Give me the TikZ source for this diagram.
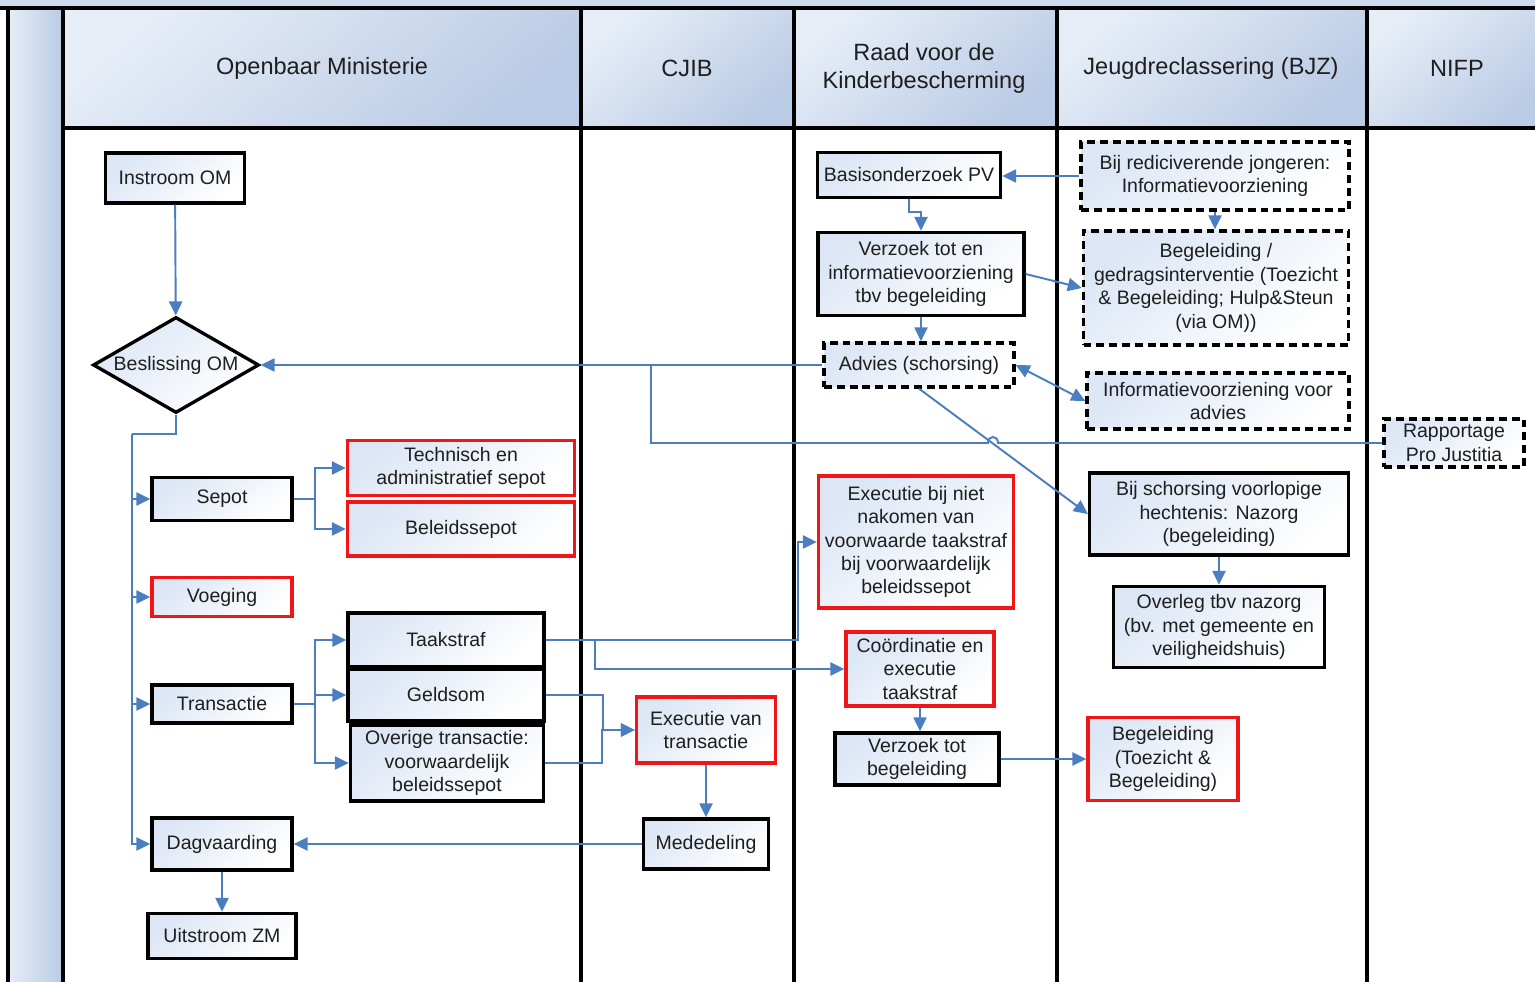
\documentclass[tikz,border=0pt]{standalone}
\usepackage{fontspec}
\setmainfont{Liberation Sans}
\usetikzlibrary{positioning,arrows.meta,shapes.geometric}
\definecolor{lnblue}{RGB}{74,126,193}
\definecolor{hdlight}{RGB}{230,237,247}
\definecolor{hddark}{RGB}{186,203,229}
\definecolor{bxblue}{RGB}{220,230,245}
\definecolor{bxred}{RGB}{238,22,22}
\definecolor{txt}{RGB}{30,30,30}

\begin{document}
\begin{tikzpicture}[x=.02cm,y=-.02cm,font=\fontsize{11.1}{13.3}\selectfont,text=txt,
  wh/.style 2 args={minimum width=#1*.02cm,minimum height=#2*.02cm},
  boxshade/.style={top color=bxblue,bottom color=white,shading angle=40},
  box/.style={draw=black,line width=1.9pt,boxshade,inner sep=1pt,align=center},
  redbox/.style={box,draw=bxred},
  dbox/.style={box,dash pattern=on 4.5pt off 2.8pt},
  conn/.style={draw=lnblue,line width=1.1pt},
  tip/.tip={Triangle[length=8pt,width=7.5pt]},
  flow/.style={conn,-tip},
  lane/.style={line width=2.2pt},
  hdtxt/.style={font=\fontsize{13.4}{15.9}\selectfont,align=center}]
\useasboundingbox (0,0) rectangle (1535,982);
% swimlane frame
\fill[hdlight!45!hddark] (0,0) rectangle (1535,8);
\foreach \a/\b in {63/581,581/794,794/1057,1057/1367,1367/1545}
  \shade[top color=hdlight,bottom color=hddark,shading angle=40] (\a,8) rectangle (\b,128);
\shade[left color=hdlight,right color=hddark] (8,8) rectangle (63,982);
\draw[lane] (0,8) -- (1535,8) (63,128) -- (1535,128);
\foreach \x in {8,63,581,794,1057,1367} \draw[lane] (\x,8) -- (\x,982);
\node[hdtxt] (hom) at (322,68) {Openbaar Ministerie};
\node[hdtxt] (hcjib) at (687,68) {CJIB};
\node[hdtxt] (hraad) at (924,68) {Raad voor de\\Kinderbescherming};
\node[hdtxt] (hbjz) at (1211,68) {Jeugdreclassering (BJZ)};
\node[hdtxt] (hnifp) at (1457,68) {NIFP};
% Openbaar Ministerie
\node[box,wh={139}{50}] (instroom) at (175,178) {Instroom OM};
\node[diamond,draw=black,line width=1.9pt,boxshade,aspect=1.7,inner sep=0pt,wh={166}{96}] (beslis) at (176,365) {Beslissing OM};
\node[box,wh={140}{43}] (sepot) at (222,499) {Sepot};
\node[redbox,wh={227}{55}] (tas) at (461,468) {Technisch en\\administratief sepot};
\node[redbox,wh={227}{54}] (bsepot) at (461,529) {Beleidssepot};
\node[redbox,wh={140}{39}] (voeging) at (222,597) {Voeging};
\node[box,wh={140}{38}] (trans) at (222,704) {Transactie};
\node[box,wh={196}{54}] (taak) at (446,640) {Taakstraf};
\node[box,wh={196}{52}] (geld) at (446,695) {Geldsom};
\node[box,wh={193}{76}] (overig) at (447,763) {Overige transactie:\\voorwaardelijk\\beleidssepot};
\node[box,wh={140}{52}] (dagv) at (222,844) {Dagvaarding};
\node[box,wh={148}{45}] (uitstroom) at (222,936) {Uitstroom ZM};
% CJIB
\node[redbox,wh={139}{66}] (exectr) at (706,730) {Executie van\\transactie};
\node[box,wh={125}{50}] (meded) at (706,844) {Mededeling};
% Raad voor de Kinderbescherming
\node[box,wh={183}{45}] (basis) at (909,175) {Basisonderzoek PV};
\node[box,wh={206}{83}] (verzinfo) at (921,274) {Verzoek tot en\\informatievoorziening\\tbv begeleiding};
\node[dbox,wh={190}{44}] (advies) at (919,365) {Advies (schorsing)};
\node[redbox,wh={195}{132}] (execniet) at (916,542) {Executie bij niet\\nakomen van\\voorwaarde taakstraf\\bij voorwaardelijk\\beleidssepot};
\node[redbox,wh={148}{74}] (coord) at (920,669) {Coördinatie en\\executie\\taakstraf};
\node[box,wh={164}{52}] (verzbeg) at (917,759) {Verzoek tot\\begeleiding};
% Jeugdreclassering
\node[dbox,wh={268}{68}] (recid) at (1215,176) {Bij rediciverende jongeren:\\Informatievoorziening};
\node[dbox,wh={265}{114}] (gedrag) at (1216,288) {Begeleiding /\\gedragsinterventie (Toezicht\\\& Begeleiding; Hulp\&Steun\\(via OM))};
\node[dbox,wh={262}{56}] (infoadv) at (1218,401) {Informatievoorziening voor\\advies};
\node[box,wh={259}{82}] (nazorg) at (1219,514) {Bij schorsing voorlopige\\hechtenis: Nazorg\\(begeleiding)};
\node[box,wh={211}{81}] (overleg) at (1219,627) {Overleg tbv nazorg\\(bv. met gemeente en\\veiligheidshuis)};
\node[redbox,wh={150}{83}] (toezicht) at (1163,759) {Begeleiding\\(Toezicht \&\\Begeleiding)};
% NIFP
\node[dbox,wh={140}{48}] (rpj) at (1454,443) {Rapportage\\Pro Justitia};
% connectors
\coordinate (tk) at (132,434);
\coordinate (jn) at (651,365);
\draw[flow] (instroom) -- (beslis);
\draw[conn] (beslis.south) |- (tk);
\foreach \n in {sepot,voeging,trans,dagv} \draw[flow] (tk) |- (\n.west);
\foreach \n in {tas,bsepot} \draw[flow] (sepot.east) -- ++(21,0) |- (\n.west);
\foreach \n in {taak,geld,overig} \draw[flow] (trans.east) -- ++(21,0) |- (\n.west);
\draw[flow] (taak.east) -- ++(252,0) |- (execniet.west);
\draw[flow] (taak.east) -- ++(49,0) |- (coord.west);
\foreach \n in {geld,overig} \draw[flow] (\n.east) -- ++(57,0) |- (exectr.west);
\draw[flow] (exectr) -- (meded);
\draw[flow] (meded) -- (dagv);
\draw[flow] (dagv) -- (uitstroom);
\draw[flow] (advies) -- (beslis);
\draw[conn] (rpj.west) -- (998,443) .. controls (998,435) and (988,435) .. (988,443) -| (jn);
\draw[flow] (basis.south) -- ++(0,13) -| (verzinfo.north);
\draw[flow] (recid.west) -- (recid.west -| basis.east);
\draw[flow] (recid.south) -- (recid.south |- gedrag.north);
\draw[flow] (verzinfo.east) -- (gedrag.west);
\draw[flow] (verzinfo.south) -- (verzinfo.south |- advies.north);
\draw[conn,tip-tip] (advies.east) -- (infoadv.west);
\draw[flow] (advies.south) -- (nazorg.west);
\draw[flow] (nazorg) -- (overleg);
\draw[flow] (coord.south) -- (coord.south |- verzbeg.north);
\draw[flow] (verzbeg) -- (toezicht);
\end{tikzpicture}
\end{document}
